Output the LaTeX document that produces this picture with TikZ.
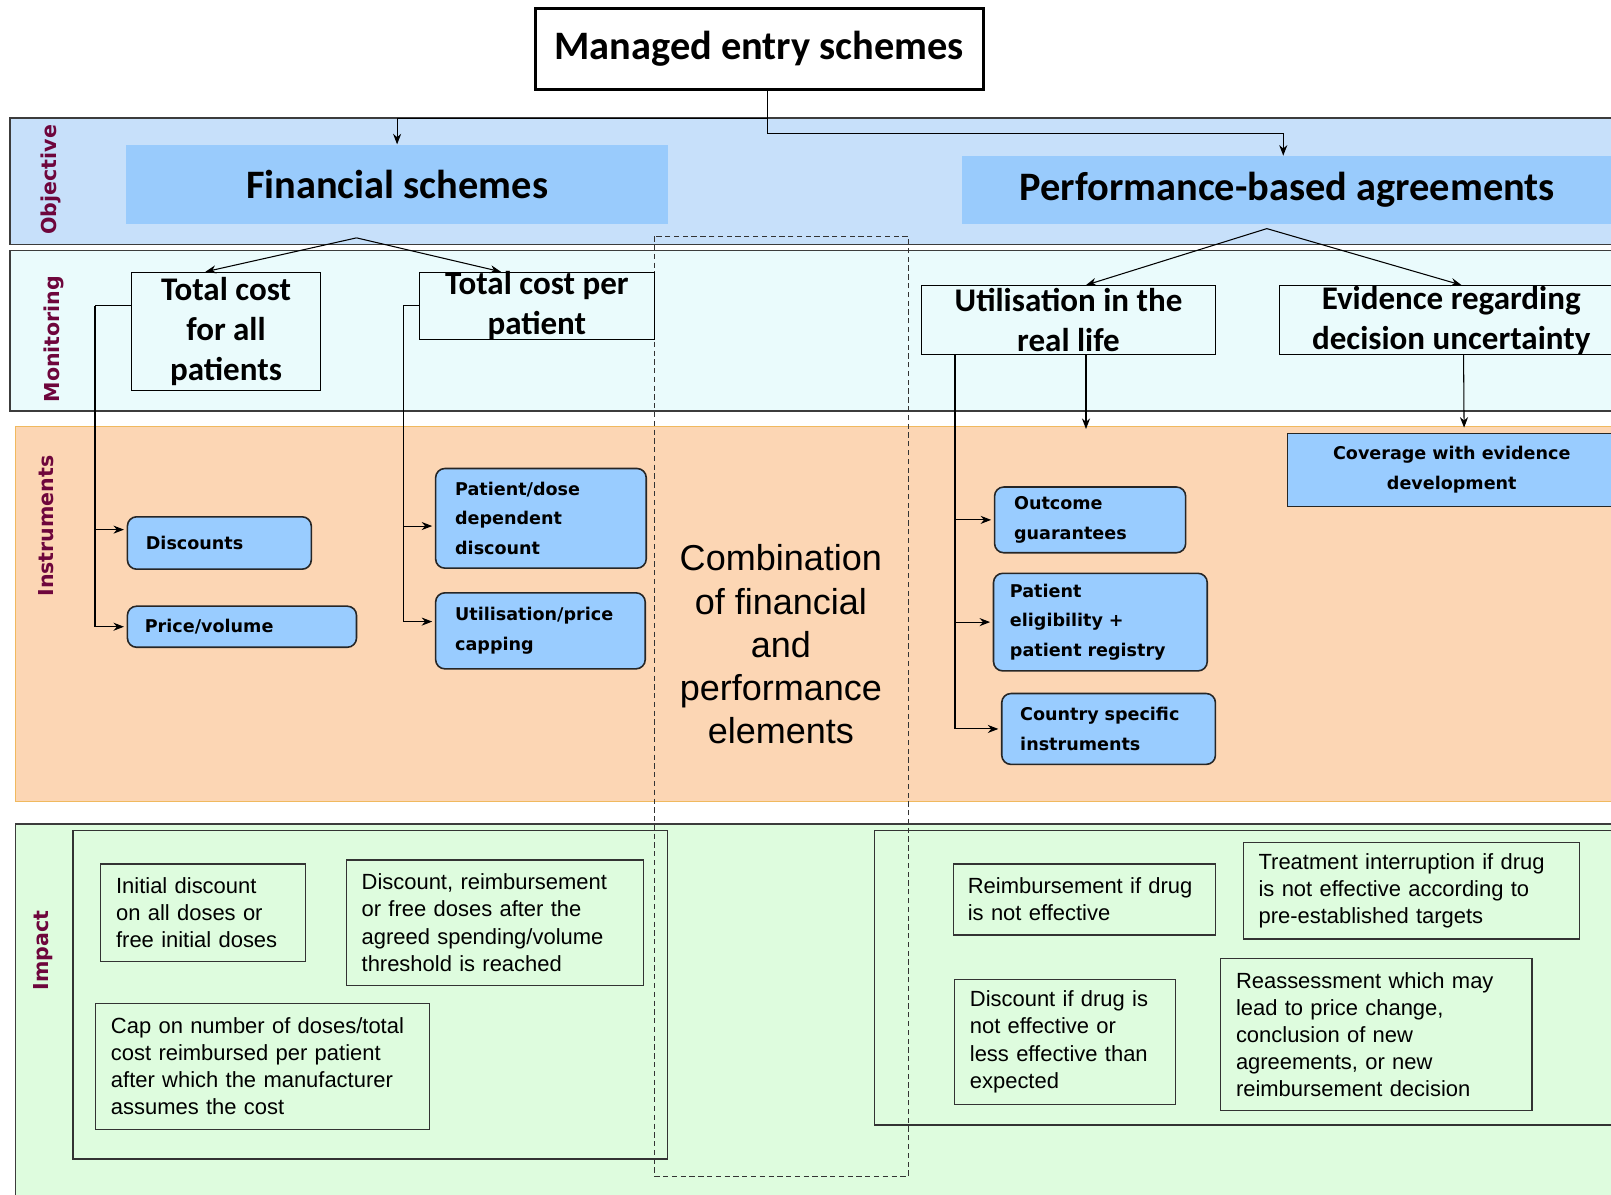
\documentclass[tikz,border=0pt]{standalone}
\usepackage{fontspec}
\setmainfont{Liberation Sans}
\newfontfamily\calibrifont{Carlito}
\newfontfamily\tahomafont{DejaVu Sans}
\usetikzlibrary{calc,arrows.meta}

\newlength\px
\setlength\px{0.020548cm}

\definecolor{bandline}{RGB}{60,60,60}
\definecolor{objband}{RGB}{199,224,250}
\definecolor{objfill}{RGB}{153,203,252}
\definecolor{monband}{RGB}{234,251,252}
\definecolor{insband}{RGB}{252,214,180}
\definecolor{insline}{RGB}{240,185,95}
\definecolor{insfill}{RGB}{153,204,255}
\definecolor{impband}{RGB}{222,252,222}
\definecolor{rowlabel}{RGB}{110,6,60}

\begin{document}
\begin{tikzpicture}[x=0.020548cm,y=-0.020548cm,line width=0.6pt,
	>={Stealth[length=6pt,width=4.6pt]},
	boxsize/.style 2 args={minimum width=#1\px,minimum height=#2\px},
	rowname/.style={rotate=90,text=rowlabel,inner sep=0pt,font=\tahomafont\bfseries\fontsize{11.7}{14}\selectfont},
	bigbox/.style={fill=objfill,inner sep=0pt,font=\calibrifont\bfseries\fontsize{23}{27}\selectfont},
	monbox/.style={draw,inner xsep=0pt,inner ysep=-6pt,align=center,font=\calibrifont\bfseries\fontsize{18.8}{22.8}\selectfont},
	insbox/.style={draw=black!85,line width=0.9pt,fill=insfill,rounded corners=9\px,inner sep=0pt,align=left,font=\tahomafont\bfseries\fontsize{10}{17}\selectfont},
	impbox/.style={draw=black!80,line width=0.7pt,inner sep=0pt,align=left,font=\fontsize{12.5}{15.4}\selectfont},
	impframe/.style={draw=black!80,line width=0.7pt,inner sep=0pt}]
	\useasboundingbox (0,0) rectangle (1568,1163);

	%BANDS
	\filldraw[draw=bandline,fill=objband,line width=0.9pt] (10,115) rectangle (1600,238);
	\filldraw[draw=bandline,fill=monband,line width=0.9pt] (10,244) rectangle (1600,400);
	\filldraw[draw=insline,fill=insband,line width=0.9pt] (15,415) rectangle (1600,780);
	\filldraw[draw=bandline,fill=impband,line width=0.9pt] (15,802) rectangle (1600,1200);
	\draw[black!80,line width=0.5pt,dash pattern=on 3pt off 2pt] (637,230) rectangle (884,1145);

	%ROW NAMES
	\node[rowname] (objname) at (50,175) {Objective};
	\node[rowname] (monname) at (52,330) {Monitoring};
	\node[rowname] (insname) at (45,512) {Instruments};
	\node[rowname] (impname) at (42,925) {Impact};

	%TITLE AND OBJECTIVE
	\node[draw,line width=1.8pt,fill=white,boxsize={436}{79},inner sep=0pt,font=\calibrifont\bfseries\fontsize{23}{27}\selectfont] (title) at (739,47.5) {Managed entry schemes};
	\node[bigbox,boxsize={527}{77}] (fin) at (386.5,179.5) {Financial schemes};
	\node[bigbox,boxsize={634}{66}] (perf) at (1253,185) {Performance-based agreements};
	\draw[->] ($(title.south)+(8,0)$) -- ++(0,27) -| (fin.north);
	\draw[->] ($(title.south)+(8,0)$) -- ++(0,41) -| ($(perf.north)+(-4,0)$);

	%MONITORING
	\node[monbox,boxsize={184}{115}] (tca) at (220,322.5) {Total cost\\for all\\patients};
	\node[monbox,boxsize={229}{65}] (tcp) at (522.5,297.5) {Total cost per\\patient};
	\node[monbox,boxsize={286}{67}] (util) at (1040,311.5) {Utilisation in the\\real life};
	\node[monbox,boxsize={335}{67}] (evid) at (1412.5,311.5) {Evidence regarding\\decision uncertainty};
	%
	\coordinate (finsplit) at ($(fin.south)+(-39.5,13)$);
	\draw[->] (finsplit) -- ($(tca.north)+(-20,0)$);
	\draw[->] (finsplit) -- ($(tcp.north)+(-35,0)$);
	\coordinate (perfsplit) at ($(perf.south)+(-20,4)$);
	\draw[->] (perfsplit) -- ($(util.north)+(17,0)$);
	\draw[->] (perfsplit) -- ($(evid.north)+(10,0)$);

	%INSTRUMENTS
	\node[insbox,boxsize={179}{51},text width=143\px] (disc) at (213.5,528.5) {Discounts};
	\node[insbox,boxsize={223}{40},text width=189\px] (pv) at (235.5,610) {Price/volume};
	\node[insbox,boxsize={205}{97},text width=167\px] (pdd) at (526.5,504.5) {Patient/dose\\dependent\\discount};
	\node[insbox,boxsize={204}{74},text width=166\px] (upc) at (526,614) {Utilisation/price\\capping};
	\node[insbox,boxsize={186}{64},text width=148\px] (outc) at (1061,506) {Outcome\\guarantees};
	\node[insbox,boxsize={208}{95},text width=176\px] (pelig) at (1071,605.5) {Patient\\eligibility +\\patient registry};
	\node[insbox,boxsize={208}{69},text width=172\px] (ctry) at (1079,709.5) {Country specific\\instruments};
	\node[insbox,rounded corners=0pt,align=center,boxsize={320}{71}] (cov) at (1413,457.5) {Coverage with evidence\\development};
	\node[font=\fontsize{20.5}{24.5}\selectfont,align=center] (combo) at (760,627) {Combination\\of financial\\and\\performance\\elements};
	%
	\coordinate (busL) at ($(tca.west |- tcp.west)+(-35,0)$);
	\draw (tca.west |- tcp.west) -- (busL);
	\draw[->,shorten >=1.5pt] (busL) |- (pv.west);
	\draw[->,shorten >=1.5pt] ($(busL |- disc.west)+(0,-13)$) -- ($(disc.west)+(0,-13)$);
	\coordinate (busM) at ($(tcp.west)+(-15,0)$);
	\draw (tcp.west) -- (busM);
	\draw[->,shorten >=1.5pt] (busM) |- ($(upc.west)+(0,-9)$);
	\draw[->,shorten >=1.5pt] ($(busM |- pdd.west)+(0,7.5)$) -- ($(pdd.west)+(0,7.5)$);
	\coordinate (busR) at ($(util.south west)+(33,0)$);
	\draw[->,shorten >=1.5pt] (busR) |- (ctry.west);
	\draw[->,shorten >=1.5pt] (busR |- outc.west) -- (outc.west);
	\draw[->,shorten >=1.5pt] (busR |- pelig.west) -- (pelig.west);
	\draw[->] ($(util.south)+(17,0)$) -- ++(0,72);
	\draw[->] ($(evid.south)+(12,0)$) -- ($(cov.north)+(12,-5)$);

	%IMPACT
	\node[impframe,boxsize={579}{320}] (impfin) at (360.5,968) {};
	\node[impframe,boxsize={724}{287}] (impperf) at (1213,951.5) {};
	\node[impbox,boxsize={199}{95},text width=169\px] (init) at (197.5,888.5) {Initial discount\\on all doses or\\free initial doses};
	\node[impbox,boxsize={289}{122},text width=259\px] (thresh) at (481.5,898) {Discount, reimbursement\\or free doses after the\\agreed spending/volume\\threshold is reached};
	\node[impbox,boxsize={325}{122},text width=295\px] (cap) at (255.5,1038) {Cap on number of doses/total\\cost reimbursed per patient\\after which the manufacturer\\assumes the cost};
	\node[impbox,boxsize={255}{69},text width=227\px] (reimb) at (1055.5,875.5) {Reimbursement if drug\\is not effective};
	\node[impbox,boxsize={327}{94},text width=297\px] (treat) at (1373.5,867) {Treatment interruption if drug\\is not effective according to\\pre-established targets};
	\node[impbox,boxsize={215}{122},text width=185\px] (discif) at (1036.5,1014) {Discount if drug is\\not effective or\\less effective than\\expected};
	\node[impbox,boxsize={303}{148},text width=273\px] (reass) at (1339.5,1007) {Reassessment which may\\lead to price change,\\conclusion of new\\agreements, or new\\reimbursement decision};
\end{tikzpicture}
\end{document}
